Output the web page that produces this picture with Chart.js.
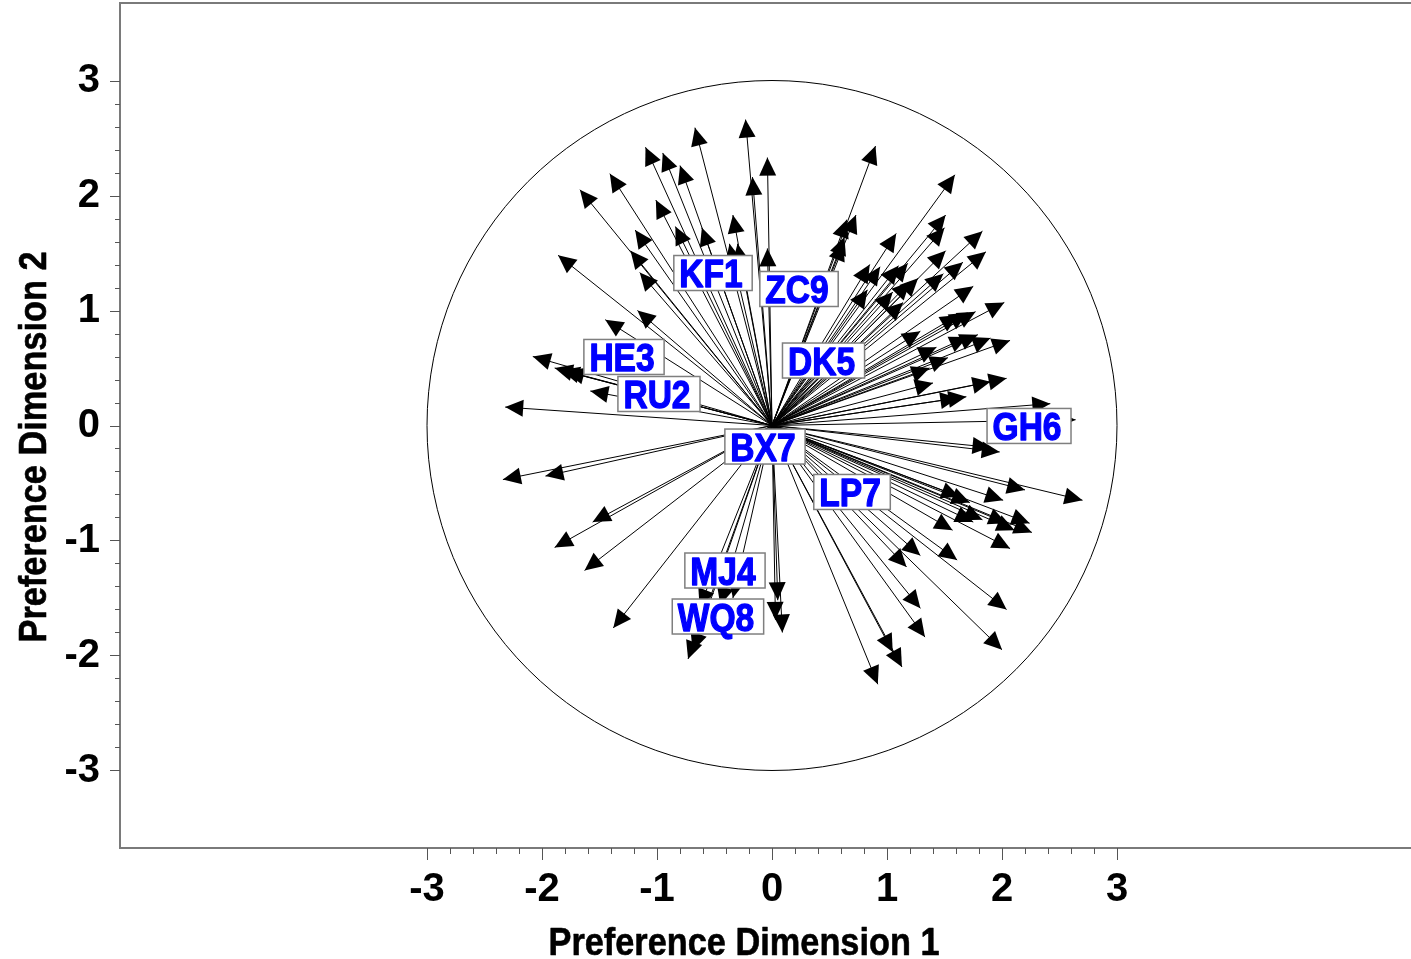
<!DOCTYPE html>
<html>
<head>
<meta charset="utf-8">
<title>Preference map</title>
<script src="https://cdn.jsdelivr.net/npm/chart.js@4.4.1/dist/chart.umd.min.js"></script>
<style>
  html, body { margin: 0; padding: 0; background: #ffffff; }
  #wrap { width: 1411px; height: 959px; position: relative; }
</style>
</head>
<body>
<div id="wrap"><canvas id="chart" width="1411" height="959"></canvas></div>
<script>
// Subject preference vectors: tip of each arrow (Dimension 1, Dimension 2)
const vectorX = [
  -0.23, -0.67, -1.10, -0.95, -0.80, -1.41, -1.67, -1.01, -0.04, -0.17,
  -1.19, -0.84, -0.61, -0.34, -1.23, -1.15, -0.37, -0.30, -0.04, -1.86,
  -1.17, -1.45, -2.08, -1.89, -1.83, -1.79, -1.58, -2.32,
  0.90, 1.59, 1.51, 1.50, 1.83, 1.86, 1.08, 0.73, 0.65, 0.63,
  0.62, 1.51, 1.66, 1.49, 0.85, 0.94, 1.10, 1.18, 1.27, 1.20,
  1.75, 0.83, 1.05, 1.14, 2.02, 1.62, 1.70, 1.77, 1.29, 1.70,
  1.79, 1.90, 2.07, 1.43, 1.53, 1.37, 1.40, 1.90, 2.04, 1.62,
  1.69, 2.42, 2.64,
  -2.34, -1.97, -1.89, -1.56, -1.63, -1.38, -0.73, -0.69, -0.34, -0.45,
  -0.63, 0.05, 0.03, 0.09,
  0.92, 1.13, 1.05, 1.33, 1.29, 2.00, 2.04, 1.17, 1.29, 1.61,
  1.57, 1.83, 1.75, 2.11, 2.07, 2.26, 2.24, 2.04, 1.72, 1.63,
  2.01, 2.20, 2.70, 1.98, 1.90
];
const vectorY = [
  2.66, 2.59, 2.42, 2.37, 2.26, 2.19, 2.05, 1.96, 2.33, 2.16,
  1.70, 1.73, 1.72, 1.83, 1.52, 1.33, 1.58, 1.58, 1.54, 1.48,
  1.00, 0.92, 0.60, 0.50, 0.48, 0.47, 0.30, 0.16,
  2.43, 2.18, 1.83, 1.72, 1.69, 1.51, 1.67, 1.83, 1.79, 1.64,
  1.59, 1.52, 1.42, 1.32, 1.40, 1.38, 1.39, 1.41, 1.28, 1.25,
  1.21, 1.18, 1.16, 1.07, 1.07, 0.96, 0.98, 0.99, 0.82, 0.77,
  0.79, 0.76, 0.74, 0.68, 0.59, 0.50, 0.37, 0.38, 0.41, 0.24,
  0.25, 0.19, 0.05,
  -0.47, -0.44, -1.06, -0.84, -1.26, -1.76, -2.03, -1.96, -1.50, -1.56,
  -1.58, -1.52, -1.69, -1.80,
  -2.25, -2.10, -1.97, -1.84, -1.59, -1.95, -1.60, -1.23, -1.13, -1.17,
  -0.91, -0.82, -0.84, -0.91, -1.07, -0.93, -0.85, -0.85, -0.67, -0.62,
  -0.65, -0.56, -0.65, -0.23, -0.19
];

// Stimulus positions (label centres)
const stimulusNames = ['KF1', 'ZC9', 'HE3', 'RU2', 'DK5', 'GH6', 'BX7', 'LP7', 'MJ4', 'WQ8'];
const stimulusX = [-0.513, 0.235, -1.287, -0.983, 0.448, 2.235, -0.061, 0.696, -0.409, -0.470];
const stimulusY = [1.326, 1.187, 0.596, 0.274, 0.565, -0.004, -0.183, -0.578, -1.261, -1.661];

// Axis ticks and titles
const tickValues = [-3, -2, -1, 0, 1, 2, 3];
const minorPerMajor = 5;
const circleRadius = 3;
const titleX = 'Preference Dimension 1';
const titleY = 'Preference Dimension 2';

const FONT = '"Liberation Sans", Arial, Helvetica, sans-serif';

const datasets = vectorX.map((vx, i) => ({
  isVector: true,
  data: [{ x: 0, y: 0 }, { x: vx, y: vectorY[i] }],
  showLine: true,
  borderColor: '#000000',
  borderWidth: 1,
  pointRadius: 0,
  pointHoverRadius: 0,
  fill: false
}));
datasets.push({
  isStimulus: true,
  data: stimulusX.map((x, i) => ({ x: x, y: stimulusY[i] })),
  showLine: false,
  pointRadius: 0,
  pointHoverRadius: 0
});

// draws text squeezed horizontally, optionally thickened with a stroke
function drawNarrowText(ctx, text, x, y, squeeze, rotate, strokeW) {
  ctx.save();
  ctx.translate(x, y);
  if (rotate) ctx.rotate(rotate);
  ctx.scale(squeeze, 1);
  ctx.fillText(text, 0, 0);
  if (strokeW) {
    ctx.lineWidth = strokeW;
    ctx.lineJoin = 'round';
    ctx.strokeStyle = ctx.fillStyle;
    ctx.strokeText(text, 0, 0);
  }
  ctx.restore();
}

const mapPlugin = {
  id: 'preferenceMap',
  beforeDatasetsDraw(chart) {
    const { ctx, chartArea, scales } = chart;
    const xs = scales.x, ys = scales.y;
    // frame top edge
    ctx.save();
    ctx.strokeStyle = '#7a7a7a';
    ctx.lineWidth = 2;
    ctx.beginPath();
    ctx.moveTo(chartArea.left - 1, chartArea.top);
    ctx.lineTo(chartArea.right + 2, chartArea.top);
    ctx.stroke();
    // circle of radius 3
    const cx = xs.getPixelForValue(0), cy = ys.getPixelForValue(0);
    const r = xs.getPixelForValue(circleRadius) - cx;
    ctx.strokeStyle = '#000000';
    ctx.lineWidth = 1;
    ctx.beginPath();
    ctx.arc(cx, cy, r, 0, Math.PI * 2);
    ctx.stroke();
    ctx.restore();
  },
  afterDatasetsDraw(chart) {
    const { ctx } = chart;
    ctx.save();
    // arrow heads
    ctx.fillStyle = '#000000';
    const headLen = 18, headHalf = 8.5;
    chart.data.datasets.forEach((ds, di) => {
      if (!ds.isVector) return;
      const meta = chart.getDatasetMeta(di);
      const p0 = meta.data[0], p1 = meta.data[1];
      const a = Math.atan2(p1.y - p0.y, p1.x - p0.x);
      const bx = p1.x - headLen * Math.cos(a), by = p1.y - headLen * Math.sin(a);
      ctx.beginPath();
      ctx.moveTo(p1.x, p1.y);
      ctx.lineTo(bx + headHalf * Math.sin(a), by - headHalf * Math.cos(a));
      ctx.lineTo(bx - headHalf * Math.sin(a), by + headHalf * Math.cos(a));
      ctx.closePath();
      ctx.fill();
    });
    // stimulus labels
    chart.data.datasets.forEach((ds, di) => {
      if (!ds.isStimulus) return;
      const meta = chart.getDatasetMeta(di);
      ctx.font = 'bold 39px ' + FONT;
      const squeeze = 0.86;
      meta.data.forEach((pt, i) => {
        const name = stimulusNames[i];
        const w = ctx.measureText(name).width * squeeze + 15;
        const h = 35;
        ctx.fillStyle = '#ffffff';
        ctx.fillRect(pt.x - w / 2, pt.y - h / 2, w, h);
        ctx.strokeStyle = '#7f7f7f';
        ctx.lineWidth = 1.5;
        ctx.strokeRect(pt.x - w / 2, pt.y - h / 2, w, h);
        ctx.fillStyle = '#0000ff';
        ctx.textAlign = 'center';
        ctx.textBaseline = 'alphabetic';
        drawNarrowText(ctx, name, pt.x - 2, pt.y + 14, squeeze, 0, 1.3);
      });
    });
    ctx.restore();
  },
  afterDraw(chart) {
    const { ctx, chartArea, scales } = chart;
    const xs = scales.x, ys = scales.y;
    ctx.save();
    ctx.strokeStyle = '#555555';
    ctx.lineWidth = 1;
    // tick marks: majors at tickValues, minors between them
    for (let k = 0; k < tickValues.length; k++) {
      const v0 = tickValues[k];
      const steps = k < tickValues.length - 1 ? minorPerMajor : 1;
      const v1 = k < tickValues.length - 1 ? tickValues[k + 1] : v0;
      for (let s = 0; s < steps; s++) {
        const v = v0 + (v1 - v0) * s / minorPerMajor;
        const major = s === 0;
        const px = Math.round(xs.getPixelForValue(v)) + 0.5;
        ctx.beginPath();
        ctx.moveTo(px, chartArea.bottom);
        ctx.lineTo(px, chartArea.bottom + (major ? 12 : 6));
        ctx.stroke();
        const py = Math.round(ys.getPixelForValue(v)) + 0.5;
        ctx.beginPath();
        ctx.moveTo(chartArea.left, py);
        ctx.lineTo(chartArea.left - (major ? 10 : 5), py);
        ctx.stroke();
      }
    }
    // axis titles
    ctx.fillStyle = '#000000';
    ctx.font = 'bold 39px ' + FONT;
    ctx.textAlign = 'center';
    ctx.textBaseline = 'alphabetic';
    drawNarrowText(ctx, titleX, 744, 955, 0.88, 0, 0.6);
    drawNarrowText(ctx, titleY, 46, 447, 0.88, -Math.PI / 2, 0.6);
    ctx.restore();
  }
};

const tickFont = { family: FONT, size: 40, weight: 'bold' };

new Chart(document.getElementById('chart'), {
  type: 'scatter',
  data: { datasets: datasets },
  options: {
    responsive: false,
    animation: false,
    devicePixelRatio: 1,
    events: [],
    layout: { padding: { top: 3, right: 0, bottom: 0, left: 0 } },
    plugins: { legend: { display: false }, tooltip: { enabled: false } },
    scales: {
      x: {
        type: 'linear',
        min: -5.6696,
        max: 5.5565,
        afterFit(scale) {
          scale.height = 111;
          scale.paddingLeft = 0; scale.paddingRight = 0;
          scale.paddingTop = 0; scale.paddingBottom = 0;
        },
        afterBuildTicks(scale) { scale.ticks = tickValues.map(v => ({ value: v })); },
        grid: { display: true, drawOnChartArea: false, drawTicks: true, tickLength: 12, tickColor: 'rgba(0,0,0,0)' },
        border: { display: true, color: '#7a7a7a', width: 2 },
        ticks: { autoSkip: false, maxRotation: 0, padding: 6, color: '#000000', font: tickFont, callback: v => String(v) }
      },
      y: {
        type: 'linear',
        min: -3.674,
        max: 3.674,
        afterFit(scale) {
          scale.width = 120;
          scale.paddingLeft = 0; scale.paddingRight = 0;
          scale.paddingTop = 0; scale.paddingBottom = 0;
        },
        afterBuildTicks(scale) { scale.ticks = tickValues.map(v => ({ value: v })); },
        grid: { display: true, drawOnChartArea: false, drawTicks: true, tickLength: 10, tickColor: 'rgba(0,0,0,0)' },
        border: { display: true, color: '#7a7a7a', width: 2 },
        ticks: { autoSkip: false, padding: 10, color: '#000000', font: tickFont, callback: v => String(v) }
      }
    }
  },
  plugins: [mapPlugin]
});
</script>
</body>
</html>
